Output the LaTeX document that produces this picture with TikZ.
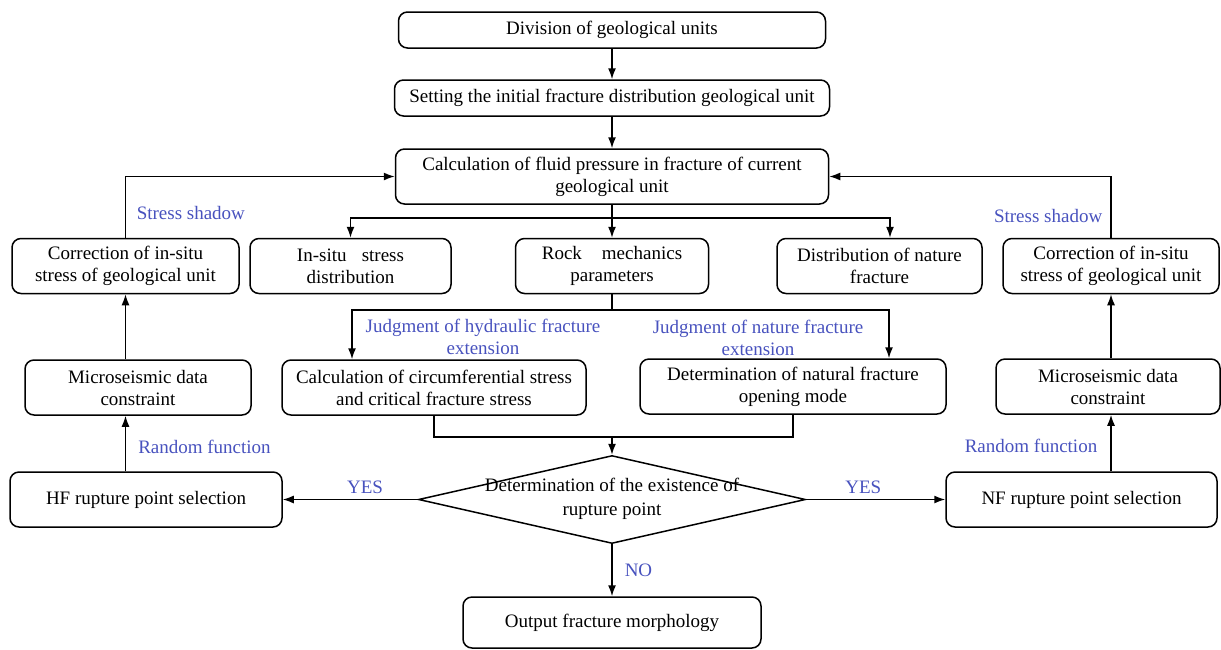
\documentclass[tikz,border=0pt]{standalone}
\usepackage{fontspec}
\setmainfont{Liberation Serif}
\usepackage{tikz}
\usetikzlibrary{shapes.geometric,arrows.meta}
\definecolor{labelblue}{RGB}{72,82,190}

\begin{document}
\begin{tikzpicture}[
    x=1pt, y=-1pt,
    font=\fontsize{19}{22}\selectfont,
    box/.style={rectangle, draw, rounded corners=9pt, line width=1.5pt, align=center, inner sep=0pt, minimum height=55pt},
    decision/.style={diamond, draw, line width=1.5pt, inner sep=0pt, minimum width=387pt, minimum height=88pt},
    note/.style={text=labelblue, align=center, inner sep=2pt},
    line/.style={line width=1.5pt},
    arrow/.style={-{Latex[length=11pt,width=8pt]}, line width=1.5pt}
]
\useasboundingbox (0,0) rectangle (1221,649);

\node[box, minimum width=427pt, minimum height=36pt] (division) at (612,30) {Division of geological units};
\node[box, minimum width=435pt, minimum height=36pt] (setting) at (612,98) {Setting the initial fracture distribution geological unit};
\node[box, minimum width=433pt] (fluid) at (612,176.5) {Calculation of fluid pressure in fracture of current\\geological unit};
\node[box, minimum width=227pt] (corrL) at (125.5,266) {Correction of in-situ\\stress of geological unit};
\node[box, minimum width=201pt] (insitu) at (350.5,266) {In-situ\hspace{0.8em}stress\\distribution};
\node[box, minimum width=193pt] (rock) at (612,266) {Rock\hspace{1.05em}mechanics\\parameters};
\node[box, minimum width=205pt] (natfrac) at (879.5,266) {Distribution of nature\\fracture};
\node[box, minimum width=216pt] (corrR) at (1111,266) {Correction of in-situ\\stress of geological unit};
\node[box, minimum width=226pt] (microL) at (138,387.5) {Microseismic data\\constraint};
\node[box, minimum width=304pt] (circ) at (434,387.5) {Calculation of circumferential stress\\and critical fracture stress};
\node[box, minimum width=306pt] (opening) at (793,386.5) {Determination of natural fracture\\opening mode};
\node[box, minimum width=224pt] (microR) at (1108,386.5) {Microseismic data\\constraint};
\node[decision] (exist) at (612,499.5) {};
\node[align=center] (existtext) at ([yshift=1pt]exist.center) {Determination of the existence of\\[2pt]rupture point};
\node[box, minimum width=272pt] (hfsel) at (146,499.5) {HF rupture point selection};
\node[box, minimum width=271pt] (nfsel) at (1081.5,499.5) {NF rupture point selection};
\node[box, minimum width=298pt, minimum height=51pt] (output) at (612,622.5) {Output fracture morphology};

\node[note] (judgeHF) at (483,337) {Judgment of hydraulic fracture\\extension};
\node[note] (judgeNF) at (758,338) {Judgment of nature fracture\\extension};

\coordinate (split) at (612,218);
\coordinate (join) at (612,310);
\coordinate (merge) at (612,437);

\draw[arrow] (division) -- (setting);
\draw[arrow] (setting) -- (fluid);
\draw[arrow] (fluid) -- (rock);
\draw[arrow] (split) -| (insitu.north);
\draw[arrow] (split) -| ([xshift=10.5pt]natfrac.north);
\draw[arrow] (rock.south) -- (join) -| ([xshift=-82pt]circ.north);
\draw[arrow] (join) -| ([xshift=96pt]opening.north);
\draw[line] (circ.south) |- (merge) -| (opening.south);
\draw[arrow] (merge) -- (exist.north);

\draw[arrow] (exist.west) -- node[note, above=3pt, pos=0.39] {YES} (hfsel.east);
\draw[arrow] (exist.east) -- node[note, above=3pt, pos=0.41] {YES} (nfsel.west);
\draw[arrow] (exist.south) -- node[note, right, xshift=10pt] {NO} (output.north);

\draw[arrow] (hfsel.north -| corrL) -- node[note, right, pos=0.44, xshift=10pt] {Random function} (microL.south -| corrL);
\draw[arrow] (microL.north -| corrL) -- (corrL.south);
\draw[arrow] (corrL.north) |- node[note, right, pos=0.2, xshift=8.5pt] {Stress shadow} (fluid.west);

\draw[arrow] (nfsel.north -| corrR) -- node[note, left, pos=0.44, xshift=-11pt] {Random function} (microR.south -| corrR);
\draw[arrow] (microR.north -| corrR) -- (corrR.south);
\draw[arrow] (corrR.north) |- node[note, left, pos=0.18, xshift=-6pt] {Stress shadow} (fluid.east);
\end{tikzpicture}
\end{document}
